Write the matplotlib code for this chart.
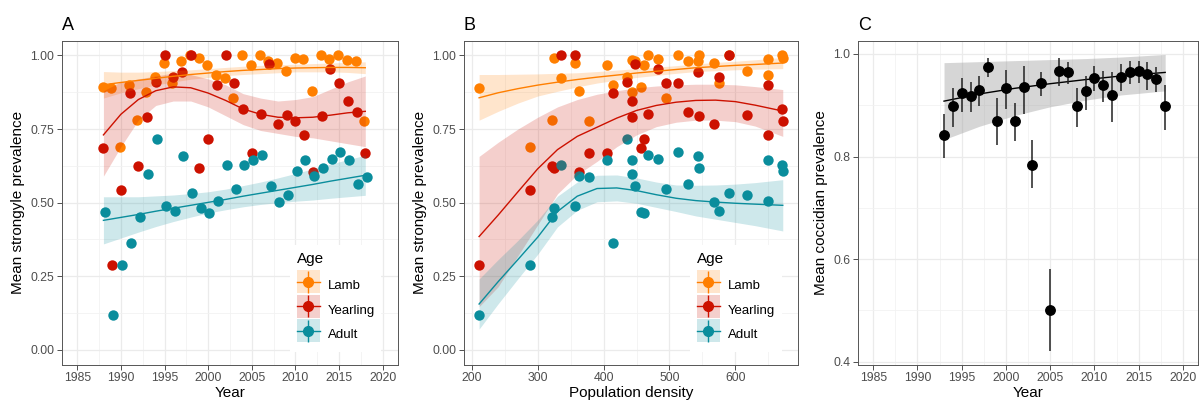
import numpy as np
import matplotlib.pyplot as plt
from matplotlib.lines import Line2D
from matplotlib.patches import Patch, Rectangle
from matplotlib.legend_handler import HandlerTuple, HandlerPatch
from matplotlib.ticker import MultipleLocator, FormatStrFormatter

plt.rcParams['font.family'] = ['Liberation Sans', 'DejaVu Sans']

# ---- data ---------------------------------------------------------
years = list(range(1988, 2019))
lamb = [0.893, 0.888, 0.689, 0.900, 0.782, 0.875, 0.927, 0.975, 0.907, 0.982,
        1.000, 0.990, 0.967, 0.934, 0.923, 0.855, 1.000, 0.967, 1.000, 0.981,
        0.974, 0.946, 0.991, 0.989, 0.880, 1.000, 0.989, 1.000, 0.985, 0.982, 0.777]
yearling = [0.684, 0.287, 0.543, 0.873, 0.624, 0.790, 0.909, 1.000, 0.927, 0.944,
            1.000, 0.618, 0.717, 0.899, 1.000, 0.907, 0.817, 0.669, 0.802, 0.972,
            0.766, 0.796, 0.776, 0.728, 0.603, 0.794, 0.955, 0.907, 0.844, 0.807, 0.668]
adult = [0.469, 0.118, 0.287, 0.363, 0.452, 0.597, 0.715, 0.490, 0.473, 0.660,
         0.534, 0.482, 0.465, 0.506, 0.629, 0.546, 0.629, 0.646, 0.663, 0.557,
         0.502, 0.526, 0.607, 0.646, 0.591, 0.618, 0.649, 0.671, 0.645, 0.565, 0.586]
density = [457, 211, 289, 414, 321, 443, 435, 357, 575, 543,
           591, 325, 461, 650, 335, 494, 671, 405, 467, 447,
           567, 617, 672, 649, 362, 545, 482, 513, 443, 528, 378]

# smoothers, panel A (by year)
fit_years = [1988, 1990, 1992, 1994, 1996, 1998, 2000, 2002, 2004, 2006, 2008, 2010, 2012, 2014, 2016, 2018]
lamb_fit_a = [0.900, 0.908, 0.915, 0.922, 0.929, 0.935, 0.940, 0.945, 0.949, 0.952, 0.955, 0.957, 0.958, 0.959, 0.959, 0.958]
lamb_hi_a = [0.945, 0.943, 0.943, 0.945, 0.948, 0.951, 0.955, 0.959, 0.963, 0.966, 0.968, 0.970, 0.972, 0.974, 0.976, 0.978]
lamb_lo_a = [0.855, 0.873, 0.887, 0.899, 0.910, 0.919, 0.925, 0.931, 0.935, 0.938, 0.941, 0.944, 0.944, 0.944, 0.942, 0.938]
year_fit_a = [0.730, 0.800, 0.850, 0.880, 0.893, 0.890, 0.872, 0.847, 0.818, 0.800, 0.790, 0.788, 0.790, 0.797, 0.805, 0.810]
year_hi_a = [0.880, 0.910, 0.920, 0.930, 0.940, 0.935, 0.920, 0.900, 0.870, 0.855, 0.845, 0.850, 0.860, 0.885, 0.910, 0.930]
year_lo_a = [0.590, 0.690, 0.780, 0.830, 0.845, 0.845, 0.825, 0.795, 0.765, 0.745, 0.735, 0.725, 0.720, 0.710, 0.700, 0.690]
adult_fit_a = [0.440, 0.450, 0.460, 0.471, 0.481, 0.491, 0.501, 0.511, 0.522, 0.532, 0.542, 0.552, 0.562, 0.573, 0.583, 0.593]
adult_hi_a = [0.520, 0.520, 0.520, 0.523, 0.526, 0.531, 0.537, 0.546, 0.558, 0.570, 0.584, 0.599, 0.615, 0.631, 0.646, 0.661]
adult_lo_a = [0.360, 0.380, 0.400, 0.419, 0.436, 0.451, 0.465, 0.476, 0.486, 0.494, 0.500, 0.505, 0.509, 0.515, 0.520, 0.525]

# smoothers, panel B (by density)
fit_dens = [211, 240, 270, 300, 330, 360, 390, 420, 450, 480, 510, 540, 570, 600, 630, 672]
lamb_fit_b = [0.856, 0.873, 0.887, 0.899, 0.909, 0.918, 0.926, 0.933, 0.940, 0.946, 0.952, 0.958, 0.962, 0.966, 0.969, 0.974]
lamb_hi_b = [0.935, 0.935, 0.936, 0.937, 0.939, 0.941, 0.945, 0.950, 0.955, 0.960, 0.965, 0.971, 0.976, 0.980, 0.985, 0.993]
lamb_lo_b = [0.780, 0.810, 0.838, 0.862, 0.878, 0.893, 0.906, 0.916, 0.925, 0.932, 0.939, 0.945, 0.948, 0.951, 0.953, 0.955]
year_fit_b = [0.385, 0.458, 0.537, 0.615, 0.680, 0.725, 0.756, 0.787, 0.813, 0.830, 0.841, 0.847, 0.848, 0.843, 0.831, 0.811]
year_hi_b = [0.657, 0.705, 0.750, 0.790, 0.825, 0.850, 0.868, 0.880, 0.890, 0.896, 0.900, 0.902, 0.902, 0.900, 0.894, 0.884]
year_lo_b = [0.147, 0.215, 0.320, 0.425, 0.530, 0.595, 0.640, 0.690, 0.730, 0.758, 0.773, 0.780, 0.780, 0.775, 0.760, 0.725]
adult_fit_b = [0.156, 0.232, 0.307, 0.383, 0.470, 0.522, 0.548, 0.550, 0.541, 0.527, 0.515, 0.507, 0.502, 0.498, 0.495, 0.491]
adult_hi_b = [0.241, 0.307, 0.372, 0.441, 0.522, 0.570, 0.593, 0.594, 0.584, 0.570, 0.560, 0.559, 0.560, 0.563, 0.568, 0.578]
adult_lo_b = [0.071, 0.157, 0.242, 0.325, 0.418, 0.474, 0.503, 0.506, 0.498, 0.484, 0.470, 0.455, 0.444, 0.433, 0.422, 0.404]

# panel C, coccidian prevalence
c_years = list(range(1993, 2019))
cocc = [0.842, 0.898, 0.923, 0.918, 0.929, 0.974, 0.869, 0.934, 0.869, 0.936, 0.784, 0.943, 0.500,
        0.967, 0.964, 0.898, 0.927, 0.954, 0.940, 0.919, 0.956, 0.964, 0.966, 0.961, 0.951, 0.898]
cocc_lo = [0.798, 0.858, 0.887, 0.886, 0.898, 0.956, 0.823, 0.892, 0.830, 0.883, 0.738, 0.918, 0.420,
           0.937, 0.941, 0.858, 0.891, 0.928, 0.906, 0.867, 0.928, 0.941, 0.944, 0.929, 0.925, 0.851]
cocc_hi = [0.882, 0.933, 0.953, 0.946, 0.957, 0.992, 0.914, 0.969, 0.904, 0.977, 0.833, 0.964, 0.580,
           0.993, 0.984, 0.933, 0.957, 0.977, 0.967, 0.964, 0.981, 0.986, 0.987, 0.984, 0.975, 0.939]
c_fit_years = [1993, 1997, 2001, 2005, 2009, 2013, 2018]
c_fit = [0.908, 0.922, 0.933, 0.942, 0.950, 0.957, 0.964]
c_fit_hi = [0.983, 0.985, 0.987, 0.989, 0.991, 0.994, 0.999]
c_fit_lo = [0.833, 0.859, 0.880, 0.897, 0.910, 0.920, 0.928]

ages = ['Lamb', 'Yearling', 'Adult']
colors = ['#FF7F00', '#CC1100', '#0A8D9C']


def style(ax):
    ax.set_axisbelow(True)
    ax.grid(which='major', color='#EBEBEB', lw=0.9)
    ax.grid(which='minor', color='#F2F2F2', lw=0.6)
    ax.tick_params(which='major', length=3.5, width=0.6, color='#333333', pad=2,
                   labelsize=8.8, labelcolor='#4D4D4D')
    ax.tick_params(which='minor', length=0)
    for s in ax.spines.values():
        s.set_color('#555555')
        s.set_linewidth(0.7)


def key_square(legend, orig_handle, xdescent, ydescent, width, height, fontsize):
    # square key centred on the line the Line2D handler draws
    yc = (height - ydescent) / 2
    return Rectangle((-xdescent, yc - height / 2), width, height)


def age_legend(ax, anchor):
    handles = []
    for c in colors:
        bg = Patch(facecolor=c, alpha=0.2, edgecolor='none')
        hl = Line2D([], [], color=c, lw=1.0, marker='o', markersize=7)
        vl = Line2D([], [], color=c, lw=0, marker='|', markersize=16.5, markeredgewidth=1.0)
        handles.append((bg, hl, vl))
    leg = ax.legend(handles, ages,
                    handler_map={tuple: HandlerTuple(ndivide=1, pad=0),
                                 Patch: HandlerPatch(patch_func=key_square)},
                    loc='lower right', bbox_to_anchor=anchor, title='Age',
                    fontsize=9.5, title_fontsize=11, handlelength=1.74, handleheight=2.3,
                    labelspacing=0.11, handletextpad=0.6, borderpad=0.5,
                    frameon=True, fancybox=False, framealpha=1, alignment='left')
    leg.get_frame().set_edgecolor('none')
    leg._legend_box.sep = 6  # room between title and keys


fig = plt.figure(figsize=(12.01, 4.03), dpi=100)
axA = fig.add_axes([0.0516, 0.095, 0.2798, 0.8042])
axB = fig.add_axes([0.3863, 0.095, 0.2784, 0.8042])
axC = fig.add_axes([0.7142, 0.095, 0.2836, 0.8042])

# Panel A
dodge = [-0.1, 0.0, 0.15]
for vals, c, dx in zip([lamb, yearling, adult], colors, dodge):
    axA.scatter(np.array(years) + dx, vals, s=56, color=c, lw=0, zorder=2)
for f, lo, hi, c in [(lamb_fit_a, lamb_lo_a, lamb_hi_a, colors[0]),
                     (year_fit_a, year_lo_a, year_hi_a, colors[1]),
                     (adult_fit_a, adult_lo_a, adult_hi_a, colors[2])]:
    axA.fill_between(fit_years, lo, hi, color=c, alpha=0.2, lw=0, zorder=3)
    axA.plot(fit_years, f, color=c, lw=1.0, zorder=4)
axA.set_xlim(1983.25, 2021.75)
axA.set_ylim(-0.05, 1.05)
axA.xaxis.set_major_locator(MultipleLocator(5))
axA.xaxis.set_minor_locator(MultipleLocator(2.5))
axA.yaxis.set_major_locator(MultipleLocator(0.25))
axA.yaxis.set_minor_locator(MultipleLocator(0.125))
axA.yaxis.set_major_formatter(FormatStrFormatter('%.2f'))
axA.set_xlabel('Year', fontsize=11, labelpad=1)
axA.set_ylabel('Mean strongyle prevalence', fontsize=11, labelpad=4)
axA.set_title('A', loc='left', fontsize=13, pad=8)
style(axA)
age_legend(axA, (0.97, 0.018))

# Panel B
for vals, c in zip([lamb, yearling, adult], colors):
    axB.scatter(density, vals, s=56, color=c, lw=0, zorder=2)
for f, lo, hi, c in [(lamb_fit_b, lamb_lo_b, lamb_hi_b, colors[0]),
                     (year_fit_b, year_lo_b, year_hi_b, colors[1]),
                     (adult_fit_b, adult_lo_b, adult_hi_b, colors[2])]:
    axB.fill_between(fit_dens, lo, hi, color=c, alpha=0.2, lw=0, zorder=3)
    axB.plot(fit_dens, f, color=c, lw=1.0, zorder=4)
axB.set_xlim(188, 695.6)
axB.set_ylim(-0.05, 1.05)
axB.xaxis.set_major_locator(MultipleLocator(100))
axB.xaxis.set_minor_locator(MultipleLocator(50))
axB.yaxis.set_major_locator(MultipleLocator(0.25))
axB.yaxis.set_minor_locator(MultipleLocator(0.125))
axB.yaxis.set_major_formatter(FormatStrFormatter('%.2f'))
axB.set_xlabel('Population density', fontsize=11, labelpad=1)
axB.set_ylabel('Mean strongyle prevalence', fontsize=11, labelpad=4)
axB.set_title('B', loc='left', fontsize=13, pad=8)
style(axB)
age_legend(axB, (0.97, 0.018))

# Panel C
cocc = np.array(cocc)
axC.fill_between(c_fit_years, c_fit_lo, c_fit_hi, color='#999999', alpha=0.4, lw=0, zorder=2)
axC.plot(c_fit_years, c_fit, color='black', lw=1.0, zorder=3)
axC.errorbar(c_years, cocc, yerr=[cocc - np.array(cocc_lo), np.array(cocc_hi) - cocc],
             fmt='o', color='black', ecolor='#222222', elinewidth=1.1, capsize=0,
             markersize=6.8, zorder=4)
axC.set_xlim(1983.25, 2021.75)
axC.set_ylim(0.394, 1.026)
axC.xaxis.set_major_locator(MultipleLocator(5))
axC.xaxis.set_minor_locator(MultipleLocator(2.5))
axC.yaxis.set_major_locator(MultipleLocator(0.2))
axC.yaxis.set_minor_locator(MultipleLocator(0.1))
axC.yaxis.set_major_formatter(FormatStrFormatter('%.1f'))
axC.set_xlabel('Year', fontsize=11, labelpad=1)
axC.set_ylabel('Mean coccidian prevalence', fontsize=11, labelpad=4)
axC.set_title('C', loc='left', fontsize=13, pad=8)
style(axC)

fig.savefig('out.png', dpi=100)
